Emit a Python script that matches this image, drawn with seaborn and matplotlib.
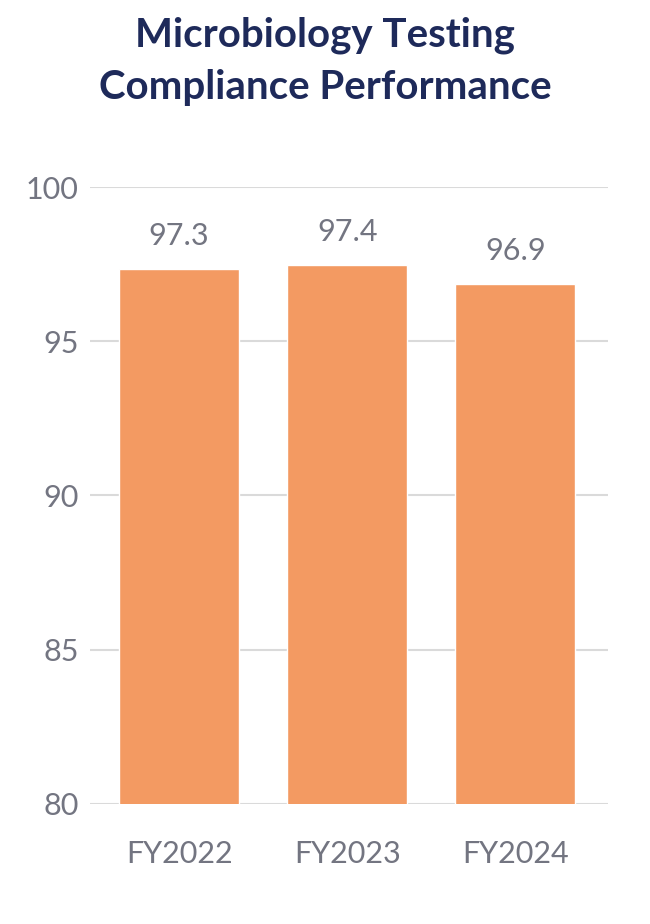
import numpy as np
import pandas as pd
import seaborn as sns
import matplotlib.pyplot as plt

#%% data
years = ['FY2022', 'FY2023', 'FY2024']
compliance = [97.34, 97.48, 96.86]
value_labels = ['97.3', '97.4', '96.9']
yticks = [80, 85, 90, 95, 100]

df = pd.DataFrame({'year': years, 'compliance': compliance})

#%% style
sns.set_style('white')
plt.rcParams['font.family'] = ['Lato', 'DejaVu Sans']

BAR = '#F39A62'
GREY = '#737581'
NAVY = '#1E2A5A'

fig = plt.figure(figsize=(6.5, 9.24), dpi=100)
ax = fig.add_axes([0.1385, 0.1302, 0.7965, 0.6671])

sns.barplot(data=df, x='year', y='compliance', color=BAR, width=0.713,
            saturation=1, ax=ax)

ax.set_ylim(80, 100)
ax.set_xlim(-0.53, 2.55)
ax.set_yticks(yticks)
ax.yaxis.grid(True, color='#DADADA', linewidth=1.5)
ax.set_axisbelow(True)
for s in ax.spines.values():
    s.set_visible(False)
ax.set_xlabel('')
ax.set_ylabel('')
ax.tick_params(axis='y', length=0, pad=8, labelsize=22, labelcolor=GREY)
ax.tick_params(axis='x', length=0, pad=26, labelsize=22, labelcolor=GREY)

for bar, lab in zip(ax.patches, value_labels):
    ax.annotate(lab, (bar.get_x() + bar.get_width() / 2, bar.get_height()),
                xytext=(0, 14), textcoords='offset points',
                ha='center', va='bottom', fontsize=22, color=GREY)

fig.text(0.5, 0.962, 'Microbiology Testing', ha='center', va='center',
         fontsize=29, fontweight='bold', color=NAVY)
fig.text(0.5, 0.905, 'Compliance Performance', ha='center', va='center',
         fontsize=29, fontweight='bold', color=NAVY)

fig.savefig('out.png', dpi=100)
